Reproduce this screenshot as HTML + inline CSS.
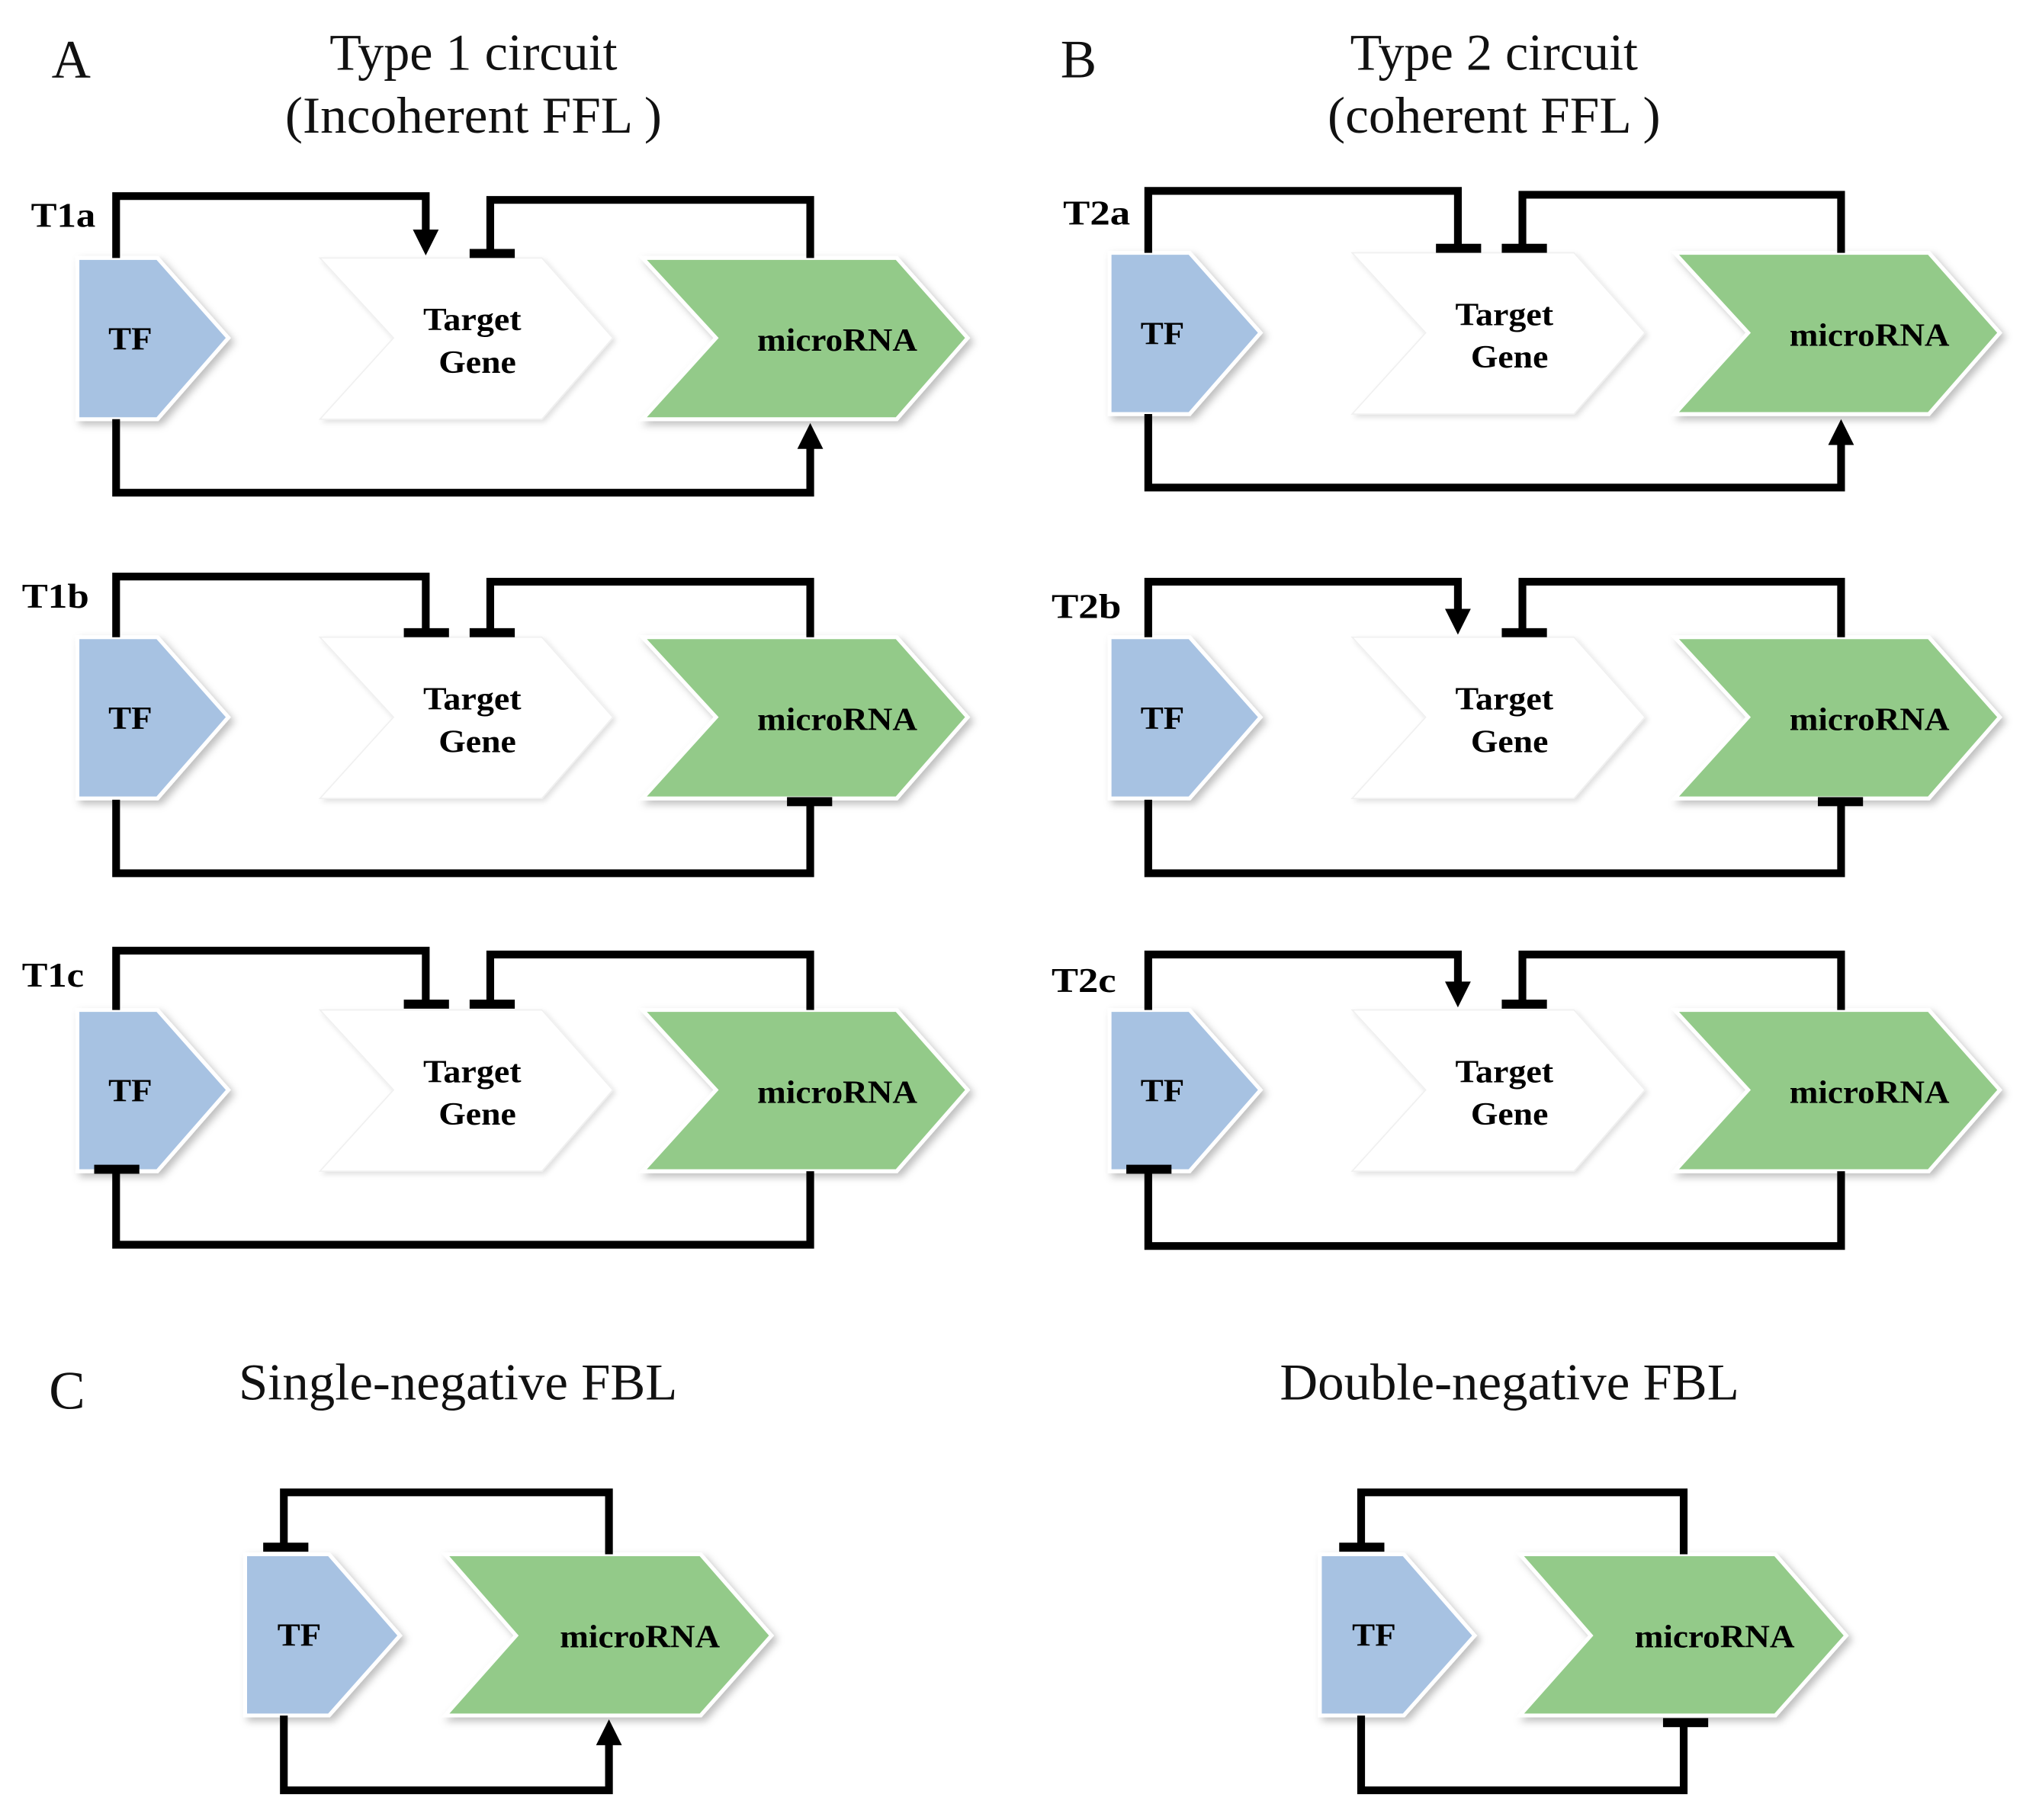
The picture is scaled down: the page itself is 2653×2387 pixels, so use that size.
<!DOCTYPE html>
<html><head><meta charset="utf-8"><style>
html,body{margin:0;padding:0;background:#fff}
svg{display:block}
.t{font-family:"Liberation Serif",serif;font-weight:bold;fill:#000}
.h{font-family:"Liberation Serif",serif;fill:#111}
.l{fill:none;stroke:#000;stroke-width:6;stroke-linejoin:miter;stroke-linecap:butt}
.tf{fill:#a7c2e2;stroke:#fff;stroke-width:3}
.tg{fill:#fff;stroke:#f0f0f0;stroke-width:1}
.mi{fill:#93ca89;stroke:#fff;stroke-width:3}
</style></head><body>
<svg width="2653" height="2387" viewBox="0 0 1568 1411" preserveAspectRatio="none" xmlns="http://www.w3.org/2000/svg">
<defs>
<filter id="sh" x="-10%" y="-10%" width="130%" height="130%"><feDropShadow dx="3" dy="3" stdDeviation="3" flood-color="#000" flood-opacity="0.25"/></filter>
<filter id="sh2" x="-10%" y="-10%" width="130%" height="130%"><feDropShadow dx="2" dy="2" stdDeviation="2" flood-color="#000" flood-opacity="0.12"/></filter>
<g id="shapes">
<path class="tf" filter="url(#sh)" d="M60,200 L122,200 L177,262 L122,325 L60,325 Z"/>
<path class="tg" filter="url(#sh2)" d="M248,200 L420,200 L475,262 L420,325 L248,325 L305,262 Z"/>
<path class="mi" filter="url(#sh)" d="M498,200 L695,200 L750,262 L695,325 L498,325 L555,262 Z"/>
<text class="t" x="101" y="271" font-size="25" text-anchor="middle" textLength="34" lengthAdjust="spacingAndGlyphs">TF</text>
<text class="t" x="366" y="256" font-size="25" text-anchor="middle" textLength="76" lengthAdjust="spacingAndGlyphs">Target</text>
<text class="t" x="370" y="289" font-size="25" text-anchor="middle" textLength="60" lengthAdjust="spacingAndGlyphs">Gene</text>
<text class="t" x="649" y="272" font-size="25" text-anchor="middle" textLength="124" lengthAdjust="spacingAndGlyphs">microRNA</text>
</g>
<g id="fbl">
<path class="tf" filter="url(#sh)" d="M190,1205 L255,1205 L310,1268 L255,1330 L190,1330 Z"/>
<path class="mi" filter="url(#sh)" d="M345,1205 L543,1205 L598,1268 L543,1330 L345,1330 L400,1268 Z"/>
<text class="t" x="232" y="1276" font-size="25" text-anchor="middle" textLength="34" lengthAdjust="spacingAndGlyphs">TF</text>
<text class="t" x="496" y="1277" font-size="25" text-anchor="middle" textLength="124" lengthAdjust="spacingAndGlyphs">microRNA</text>
</g>
</defs>

<text class="h" x="40" y="60" font-size="42">A</text>
<text class="h" x="367" y="54" font-size="40" text-anchor="middle" textLength="223" lengthAdjust="spacingAndGlyphs">Type 1 circuit</text>
<text class="h" x="367" y="103" font-size="40" text-anchor="middle" textLength="292" lengthAdjust="spacingAndGlyphs">(Incoherent FFL )</text>
<text class="h" x="822" y="60" font-size="42">B</text>
<text class="h" x="1158" y="54" font-size="40" text-anchor="middle" textLength="223" lengthAdjust="spacingAndGlyphs">Type 2 circuit</text>
<text class="h" x="1158" y="103" font-size="40" text-anchor="middle" textLength="258" lengthAdjust="spacingAndGlyphs">(coherent FFL )</text>
<text class="h" x="38" y="1092" font-size="42">C</text>
<text class="h" x="355" y="1085" font-size="40" text-anchor="middle" textLength="340" lengthAdjust="spacingAndGlyphs">Single-negative FBL</text>
<text class="h" x="1170" y="1085" font-size="40" text-anchor="middle" textLength="356" lengthAdjust="spacingAndGlyphs">Double-negative FBL</text>

<g>
<text class="t" x="24" y="176" font-size="27" textLength="50" lengthAdjust="spacingAndGlyphs">T1a</text>
<use href="#shapes"/>
<path class="l" d="M90,200 V152 H330 V180"/><path d="M320,178 L340,178 L330,198 Z"/>
<path class="l" d="M628,200 V155 H380 V196"/><rect x="364" y="193" width="35" height="7"/>
<path class="l" d="M90,325 V382 H628 V345"/><path d="M618,348 L638,348 L628,328 Z"/>
</g>
<g>
<text class="t" x="17" y="471" font-size="27" textLength="52" lengthAdjust="spacingAndGlyphs">T1b</text>
<use href="#shapes" y="294"/>
<path class="l" d="M90,494 V447 H330 V490"/><rect x="313" y="487" width="35" height="7"/>
<path class="l" d="M628,494 V451 H380 V490"/><rect x="364" y="487" width="35" height="7"/>
<path class="l" d="M90,620 V677 H628 V622"/><rect x="610" y="618" width="35" height="7"/>
</g>
<g>
<text class="t" x="17" y="765" font-size="27" textLength="48" lengthAdjust="spacingAndGlyphs">T1c</text>
<use href="#shapes" y="583"/>
<path class="l" d="M90,783 V737 H330 V778"/><rect x="313" y="775" width="35" height="7"/>
<path class="l" d="M628,783 V740 H380 V778"/><rect x="364" y="775" width="35" height="7"/>
<path class="l" d="M90,906 V965 H628 V908"/><rect x="73" y="903" width="35" height="7"/>
</g>

<g>
<text class="t" x="824" y="174" font-size="27" textLength="52" lengthAdjust="spacingAndGlyphs">T2a</text>
<use href="#shapes" x="800" y="-4"/>
<path class="l" d="M890,196 V148 H1130 V192"/><rect x="1113" y="189" width="35" height="7"/>
<path class="l" d="M1427,196 V151 H1180 V192"/><rect x="1164" y="189" width="35" height="7"/>
<path class="l" d="M890,321 V378 H1427 V342"/><path d="M1417,345 L1437,345 L1427,325 Z"/>
</g>
<g>
<text class="t" x="815" y="479" font-size="27" textLength="54" lengthAdjust="spacingAndGlyphs">T2b</text>
<use href="#shapes" x="800" y="294"/>
<path class="l" d="M890,494 V451 H1130 V474"/><path d="M1120,472 L1140,472 L1130,492 Z"/>
<path class="l" d="M1427,494 V451 H1180 V490"/><rect x="1164" y="487" width="35" height="7"/>
<path class="l" d="M890,620 V677 H1427 V622"/><rect x="1409" y="618" width="35" height="7"/>
</g>
<g>
<text class="t" x="815" y="769" font-size="27" textLength="50" lengthAdjust="spacingAndGlyphs">T2c</text>
<use href="#shapes" x="800" y="583"/>
<path class="l" d="M890,783 V740 H1130 V763"/><path d="M1120,761 L1140,761 L1130,781 Z"/>
<path class="l" d="M1427,783 V740 H1180 V778"/><rect x="1164" y="775" width="35" height="7"/>
<path class="l" d="M890,906 V966 H1427 V908"/><rect x="873" y="903" width="35" height="7"/>
</g>

<g>
<use href="#fbl"/>
<path class="l" d="M220,1200 V1157 H472 V1205"/><rect x="204" y="1196" width="35" height="7"/>
<path class="l" d="M220,1330 V1388 H472 V1350"/><path d="M462,1353 L482,1353 L472,1333 Z"/>
</g>
<g>
<use href="#fbl" x="833"/>
<path class="l" d="M1055,1200 V1157 H1305 V1205"/><rect x="1038" y="1196" width="35" height="7"/>
<path class="l" d="M1055,1330 V1388 H1305 V1335"/><rect x="1289" y="1332" width="35" height="7"/>
</g>
</svg>
</body></html>
